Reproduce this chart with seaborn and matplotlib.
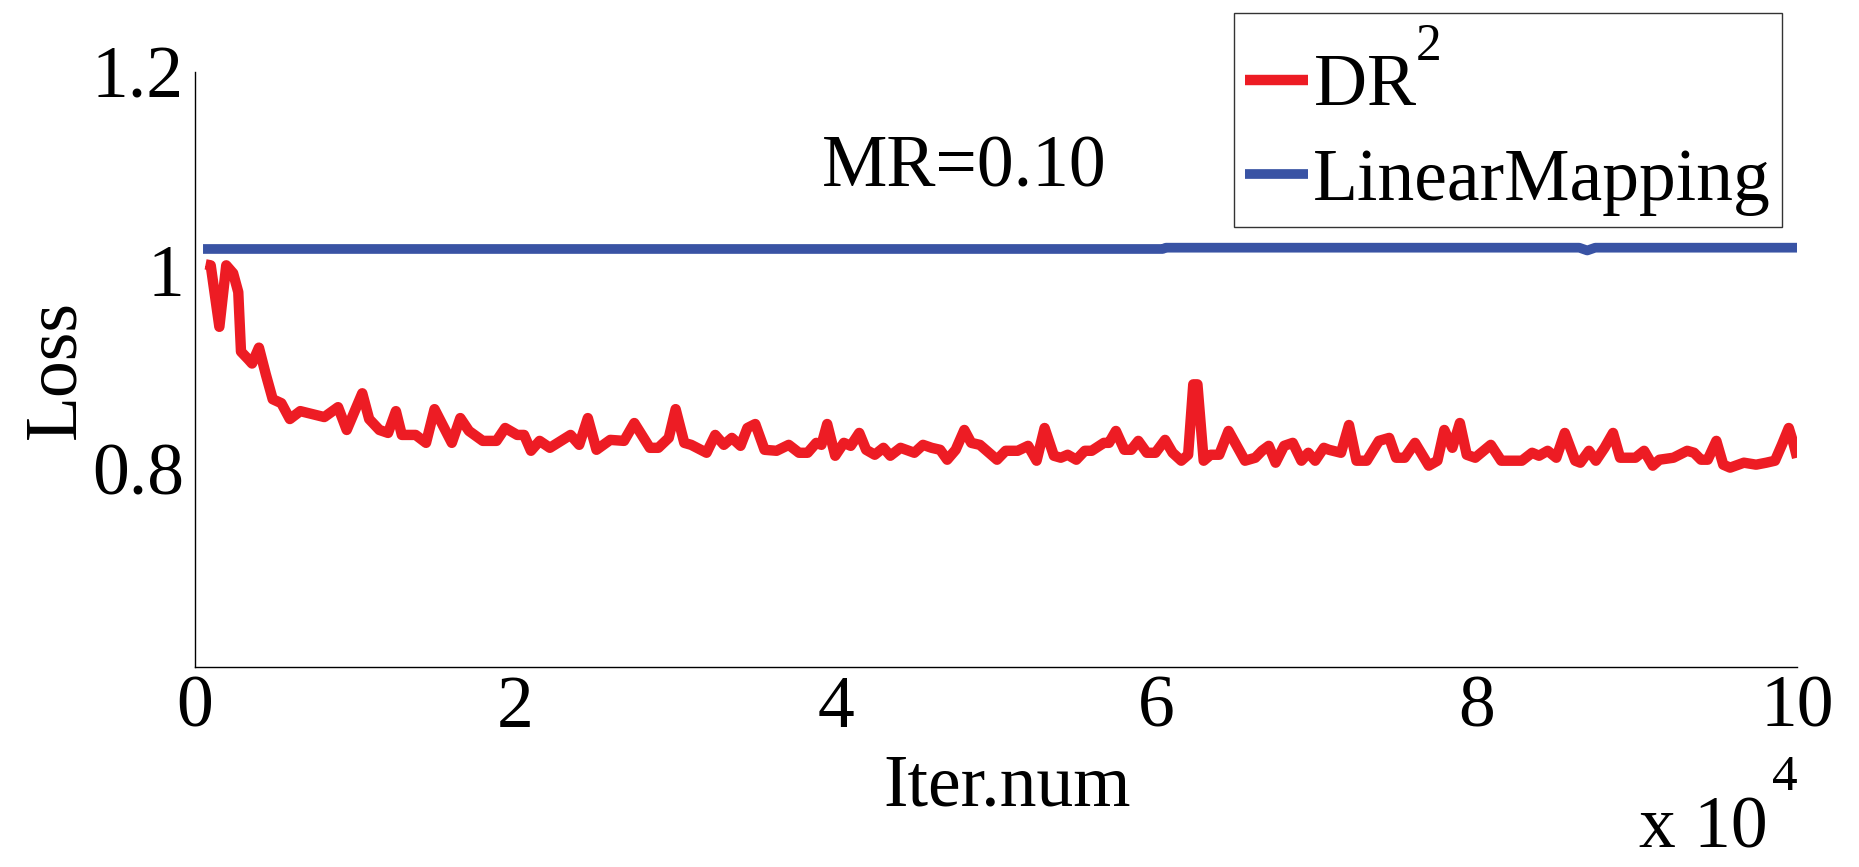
import matplotlib
matplotlib.use("Agg")
import matplotlib._mathtext as mathtext_internals
import matplotlib.pyplot as plt
import seaborn as sns

# DR^2 loss curve (x in units of 10^4 iterations)
red_x = [0.066, 0.098, 0.152, 0.195, 0.238, 0.270, 0.287, 0.334, 0.356, 0.399,
         0.442, 0.485, 0.539, 0.592, 0.657, 0.732, 0.807, 0.893, 0.947, 1.044,
         1.087, 1.151, 1.205, 1.254, 1.291, 1.377, 1.442, 1.495, 1.603, 1.656,
         1.710, 1.796, 1.882, 1.936, 2.011, 2.054, 2.097, 2.151, 2.215, 2.344,
         2.398, 2.452, 2.506, 2.592, 2.678, 2.742, 2.839, 2.892, 2.957, 3.000,
         3.054, 3.097, 3.193, 3.247, 3.301,
         3.351, 3.405, 3.448, 3.497, 3.555, 3.630, 3.706, 3.770, 3.824, 3.878,
         3.910, 3.946, 3.996, 4.050, 4.093, 4.146, 4.189, 4.243, 4.297, 4.340,
         4.404, 4.490, 4.544, 4.598, 4.651, 4.695, 4.748, 4.802, 4.845, 4.899,
         5.006, 5.060, 5.135, 5.200, 5.253, 5.303, 5.361, 5.404, 5.447, 5.501,
         5.554, 5.597, 5.673, 5.705, 5.748, 5.801, 5.844, 5.888, 5.941, 5.995,
         6.055, 6.102, 6.156, 6.199, 6.231, 6.257, 6.296, 6.339, 6.393, 6.451,
         6.554, 6.618,
         6.660, 6.702, 6.745, 6.798, 6.852, 6.906, 6.949, 6.992, 7.046, 7.078,
         7.153, 7.203, 7.250, 7.314, 7.390, 7.454, 7.497, 7.551, 7.615, 7.701,
         7.755, 7.798, 7.848, 7.895, 7.938, 7.991, 8.088, 8.153, 8.282, 8.346,
         8.389, 8.443, 8.497, 8.550, 8.615, 8.647, 8.701, 8.744, 8.798, 8.851,
         8.895, 8.991, 9.045, 9.099, 9.141, 9.228, 9.314, 9.357, 9.400, 9.442,
         9.496, 9.539, 9.582, 9.668, 9.744, 9.808, 9.862, 9.905, 9.948, 9.980,
         10.0]
red_y = [1.006, 1.005, 0.943, 1.005, 0.997, 0.978, 0.918, 0.910, 0.906, 0.922,
         0.895, 0.870, 0.866, 0.850, 0.858, 0.855, 0.852, 0.862, 0.839, 0.876,
         0.850, 0.839, 0.836, 0.858, 0.834, 0.834, 0.826, 0.860, 0.826, 0.851,
         0.838, 0.828, 0.828, 0.841, 0.834, 0.834, 0.818, 0.828, 0.821, 0.834,
         0.824, 0.851, 0.819, 0.829, 0.828, 0.846, 0.821, 0.821, 0.831, 0.860,
         0.826, 0.824, 0.816, 0.834, 0.824,
         0.831, 0.823, 0.841, 0.845, 0.819, 0.818, 0.824, 0.816, 0.816, 0.826,
         0.824, 0.845, 0.813, 0.826, 0.823, 0.836, 0.819, 0.814, 0.821, 0.813,
         0.821, 0.816, 0.824, 0.821, 0.819, 0.809, 0.819, 0.839, 0.826, 0.824,
         0.809, 0.818, 0.818, 0.823, 0.808, 0.841, 0.813, 0.811, 0.814, 0.809,
         0.818, 0.818, 0.826, 0.826, 0.838, 0.819, 0.819, 0.828, 0.816, 0.816,
         0.829, 0.816, 0.808, 0.814, 0.885, 0.885, 0.808, 0.814, 0.814, 0.838,
         0.808, 0.811,
         0.818, 0.823, 0.806, 0.823, 0.826, 0.808, 0.816, 0.808, 0.821, 0.819,
         0.816, 0.844, 0.808, 0.808, 0.828, 0.831, 0.811, 0.811, 0.826, 0.803,
         0.808, 0.839, 0.821, 0.846, 0.814, 0.811, 0.824, 0.808, 0.808, 0.816,
         0.813, 0.818, 0.811, 0.836, 0.808, 0.806, 0.818, 0.808, 0.821, 0.836,
         0.811, 0.811, 0.818, 0.803, 0.809, 0.811, 0.818, 0.816, 0.809, 0.809,
         0.828, 0.804, 0.801, 0.806, 0.804, 0.806, 0.808, 0.824, 0.841, 0.824,
         0.811]

# LinearMapping loss (nearly flat)
blue_x = [0.05, 6.04, 6.06, 8.64, 8.69, 8.74, 10.0]
blue_y = [1.0215, 1.0215, 1.0228, 1.0228, 1.0200, 1.0228, 1.0228]

series_labels = [r"$\mathregular{DR}^{2}$", "LinearMapping"]
x_ticks = [0, 2, 4, 6, 8, 10]
y_ticks = [0.8, 1.0, 1.2]
y_tick_labels = ["0.8", "1", "1.2"]

sns.set_theme(style="white")
plt.rcParams["font.family"] = ["Liberation Serif", "DejaVu Serif"]
plt.rcParams["mathtext.fontset"] = "custom"
plt.rcParams["mathtext.rm"] = "Liberation Serif"
plt.rcParams["mathtext.default"] = "rm"
plt.rcParams["text.color"] = "black"
plt.rcParams["axes.labelcolor"] = "black"
# MATLAB puts the legend superscript higher than mathtext does
mathtext_internals.FontConstantsBase.sup1 = 1.35

FS = 53
fig = plt.figure(figsize=(18.59, 8.67), dpi=100)
ax = fig.add_axes([0.1049, 0.2307, 0.8618, 0.6863])

sns.lineplot(x=red_x, y=red_y, ax=ax, color="#ED1C24", linewidth=7.5,
             label=series_labels[0], estimator=None, solid_capstyle="butt")
sns.lineplot(x=blue_x, y=blue_y, ax=ax, color="#3953A4", linewidth=7,
             label=series_labels[1], estimator=None, solid_capstyle="butt")

ax.set_xlim(0, 10)
ax.set_ylim(0.6, 1.2)
ax.set_xticks(x_ticks)
ax.set_xticklabels([str(t) for t in x_ticks])
ax.set_yticks(y_ticks)
ax.set_yticklabels(y_tick_labels)
ax.tick_params(axis="both", direction="in", length=11.5, width=1.0,
               color="black", labelsize=FS, labelcolor="black")
ax.tick_params(axis="x", pad=6)
ax.tick_params(axis="y", pad=8)

sns.despine(ax=ax)
for side in ["left", "bottom"]:
    ax.spines[side].set_color("black")
    ax.spines[side].set_linewidth(1.0)
ax.grid(False)

ax.set_xlabel("Iter.num", fontsize=FS)
ax.xaxis.set_label_coords(0.507, -0.146)
ax.set_ylabel("Loss", fontsize=FS)
ax.yaxis.set_label_coords(-0.0655, 0.5)

# exponent note under the x axis
ax.text(0.9813, -0.3041, "x 10", transform=ax.transAxes, fontsize=FS,
        ha="right", va="baseline")
ax.text(0.9844, -0.2067, "4", transform=ax.transAxes, fontsize=37,
        ha="left", va="baseline")

ax.text(4.8, 1.084, "MR=0.10", fontsize=FS, ha="center", va="baseline")

# blank title row only adds a little head room above the first entry
leg = ax.legend(loc="upper right", bbox_to_anchor=(0.9906, 1.099),
                fontsize=FS, frameon=True, fancybox=False, framealpha=1,
                borderaxespad=0, borderpad=0.15, handlelength=0.86,
                handletextpad=0.07, labelspacing=0.36,
                title=" ", title_fontsize=10)
leg._legend_box.sep = 0
leg.get_frame().set_edgecolor("#333333")
leg.get_frame().set_linewidth(1.0)

fig.savefig("out.png", dpi=100)
